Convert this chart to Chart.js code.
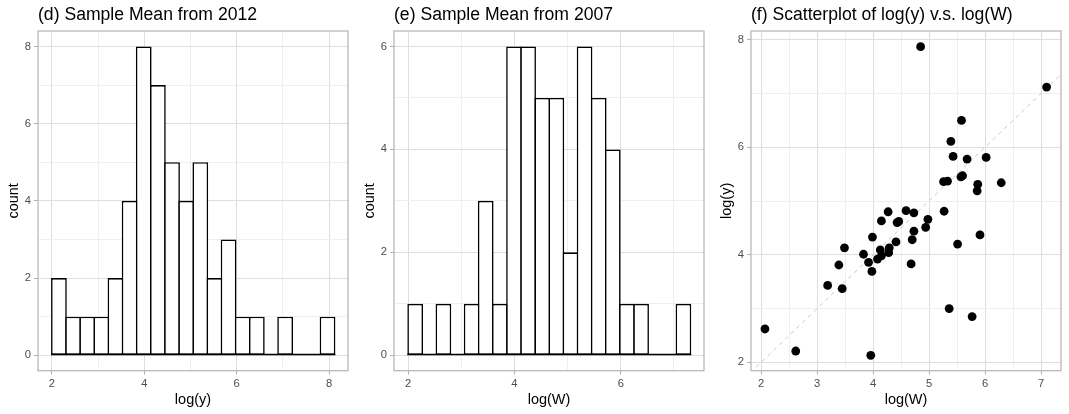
<!DOCTYPE html>
<html>
<head>
<meta charset="utf-8">
<script src="https://cdn.jsdelivr.net/npm/chart.js@4.4.1/dist/chart.umd.min.js"></script>
<style>
  html, body { margin: 0; padding: 0; background: #fff; }
  .panel { position: absolute; top: 0; width: 356px; height: 414px; }
</style>
</head>
<body>
<div class="panel" style="left:0px"><canvas id="histY"></canvas></div>
<div class="panel" style="left:356px"><canvas id="histW"></canvas></div>
<div class="panel" style="left:713px"><canvas id="scatter"></canvas></div>
<script>
// histogram of log(y): bin midpoints and counts
const histYBins = [2.153, 2.459, 2.765, 3.071, 3.377, 3.683, 3.989, 4.295, 4.601, 4.907,
                   5.213, 5.519, 5.825, 6.131, 6.437, 6.743, 7.049, 7.355, 7.661, 7.967];
const histYCounts = [2, 1, 1, 1, 2, 4, 8, 7, 5, 4, 5, 2, 3, 1, 1, 0, 1, 0, 0, 1];

// histogram of log(W)
const histWBins = [2.133, 2.398, 2.664, 2.929, 3.195, 3.460, 3.726, 3.992, 4.257, 4.523,
                   4.788, 5.054, 5.319, 5.585, 5.850, 6.116, 6.382, 6.647, 6.913, 7.178];
const histWCounts = [1, 0, 1, 0, 1, 3, 1, 6, 6, 5, 5, 2, 6, 5, 4, 1, 1, 0, 0, 1];

// scatter log(W) vs log(y)
const scatterW = [4.85, 7.10, 5.58, 5.39, 5.43, 5.68, 6.02, 5.57, 5.60, 5.26,
                  5.33, 5.87, 5.86, 6.29, 5.27, 4.27, 4.59, 4.73, 4.15, 4.46,
                  4.43, 4.98, 4.94, 4.73, 4.70, 3.99, 4.41, 5.91, 5.51, 3.49,
                  4.29, 4.13, 3.83, 4.28, 4.15, 4.08, 3.92, 3.39, 4.68, 3.98,
                  3.19, 3.45, 5.36, 5.77, 2.07, 2.62, 3.96];
const scatterY = [7.87, 7.12, 6.50, 6.11, 5.83, 5.78, 5.81, 5.45, 5.47, 5.36,
                  5.37, 5.31, 5.19, 5.34, 4.81, 4.80, 4.82, 4.78, 4.63, 4.62,
                  4.60, 4.66, 4.51, 4.44, 4.28, 4.33, 4.24, 4.37, 4.20, 4.13,
                  4.13, 4.09, 4.01, 4.04, 3.98, 3.92, 3.86, 3.81, 3.83, 3.69,
                  3.43, 3.37, 3.00, 2.85, 2.62, 2.21, 2.13];
const identityLine = [1.5, 7.5]; // y = x reference

// tick positions (major labelled, minor only gridlines)
const histYMajorX = [2, 4, 6, 8], histYMinorX = [3, 5, 7];
const histYMajorY = [0, 2, 4, 6, 8], histYMinorY = [1, 3, 5, 7];
const histWMajorX = [2, 4, 6], histWMinorX = [3, 5, 7];
const histWMajorY = [0, 2, 4, 6], histWMinorY = [1, 3, 5];
const scatMajorX = [2, 3, 4, 5, 6, 7], scatMinorX = [2.5, 3.5, 4.5, 5.5, 6.5];
const scatMajorY = [2, 4, 6, 8], scatMinorY = [3, 5, 7];

Chart.defaults.font.family = "'Liberation Sans', Arial, Helvetica, sans-serif";
Chart.defaults.animation = false;

const GRID_MAJOR = '#DEDEDE';
const GRID_MINOR = '#EFEFEF';
const FRAME = '#B3B3B3';
const LABEL = '#4D4D4D';
const OUTLINE = 1.6;

// draws the full panel border like theme_light
const panelBorder = {
  id: 'panelBorder',
  afterDraw(chart) {
    const { ctx, chartArea: a } = chart;
    ctx.save();
    ctx.strokeStyle = FRAME;
    ctx.lineWidth = 1.2;
    ctx.strokeRect(a.left, a.top, a.right - a.left, a.bottom - a.top);
    ctx.restore();
  }
};

// ggplot draws empty bins as a flat outline on the baseline
const histBaseline = {
  id: 'histBaseline',
  afterDatasetsDraw(chart) {
    const bars = chart.getDatasetMeta(0).data;
    if (!bars.length) return;
    const first = bars[0], last = bars[bars.length - 1];
    const y0 = chart.scales.y.getPixelForValue(0) - OUTLINE / 2;
    const { ctx } = chart;
    ctx.save();
    ctx.strokeStyle = '#000';
    ctx.lineWidth = OUTLINE;
    ctx.beginPath();
    ctx.moveTo(first.x - first.width / 2, y0);
    ctx.lineTo(last.x + last.width / 2, y0);
    ctx.stroke();
    ctx.restore();
  }
};

function axis(min, max, majors, minors, title, horizontal) {
  const all = majors.concat(minors).sort((a, b) => a - b);
  return {
    type: 'linear',
    min: min,
    max: max,
    offset: false,
    afterBuildTicks: (s) => { s.ticks = all.map(v => ({ value: v })); },
    afterFit: (s) => {
      if (horizontal) s.height = 43.3; else s.width = 38;
    },
    border: { display: false },
    grid: {
      offset: false,
      color: (c) => majors.includes(c.tick.value) ? GRID_MAJOR : GRID_MINOR,
      lineWidth: 1,
      drawTicks: true,
      tickLength: 4,
      tickColor: (c) => majors.includes(c.tick.value) ? FRAME : 'rgba(0,0,0,0)'
    },
    ticks: {
      autoSkip: false,
      maxRotation: 0,
      color: LABEL,
      font: { size: 11.2 },
      padding: horizontal ? 2 : 3,
      callback: (v) => majors.includes(v) ? String(v) : ''
    },
    title: {
      display: true,
      text: title,
      color: '#000',
      font: { size: 14.5 },
      padding: horizontal ? { top: 2, bottom: 5.7 } : { top: 5.4, bottom: 2 }
    }
  };
}

function plugins(title) {
  return {
    legend: { display: false },
    tooltip: { enabled: false },
    title: {
      display: true,
      text: title,
      align: 'start',
      fullSize: false,
      color: '#000',
      font: { size: 17.6, weight: 'normal' },
      padding: { top: 4.2, bottom: 5.7 }
    }
  };
}

function histogram(id, title, xTitle, bins, counts, xr, yr, mx, nx, my, ny) {
  const data = bins.map((b, i) => ({ x: b, y: counts[i] }));
  new Chart(document.getElementById(id), {
    type: 'bar',
    data: {
      datasets: [{
        data: data,
        backgroundColor: '#FFFFFF',
        borderColor: '#000000',
        borderWidth: OUTLINE,
        borderSkipped: false,
        grouped: false,
        categoryPercentage: 1,
        // widen each bar by one border so neighbouring outlines overlap
        barPercentage: (c) => {
          const x = c.chart.scales.x;
          const step = Math.abs(x.getPixelForValue(bins[1]) - x.getPixelForValue(bins[0]));
          return step > 0 ? 1 + OUTLINE / step : 1;
        }
      }]
    },
    options: {
      responsive: true,
      maintainAspectRatio: false,
      layout: { padding: { left: 0, right: 8, top: 0, bottom: 0 } },
      scales: {
        x: axis(xr[0], xr[1], mx, nx, xTitle, true),
        y: axis(yr[0], yr[1], my, ny, 'count', false)
      },
      plugins: plugins(title)
    },
    plugins: [panelBorder, histBaseline]
  });
}

histogram('histY', '(d) Sample Mean from 2012', 'log(y)', histYBins, histYCounts,
  [1.70, 8.41], [-0.4, 8.4], histYMajorX, histYMinorX, histYMajorY, histYMinorY);
histogram('histW', '(e) Sample Mean from 2007', 'log(W)', histWBins, histWCounts,
  [1.735, 7.565], [-0.3, 6.3], histWMajorX, histWMinorX, histWMajorY, histWMinorY);

new Chart(document.getElementById('scatter'), {
  type: 'scatter',
  data: {
    datasets: [{
      data: scatterW.map((w, i) => ({ x: w, y: scatterY[i] })),
      backgroundColor: '#000000',
      borderWidth: 0,
      pointRadius: 4.4
    }, {
      type: 'line',
      data: identityLine.map(v => ({ x: v, y: v })),
      borderColor: '#C8C8C8',
      borderWidth: 1,
      borderDash: [4, 4],
      pointRadius: 0,
      fill: false
    }]
  },
  options: {
    responsive: true,
    maintainAspectRatio: false,
    layout: { padding: { left: 0, right: 8, top: 0, bottom: 0 } },
    scales: {
      x: axis(1.821, 7.357, scatMajorX, scatMinorX, 'log(W)', true),
      y: axis(1.844, 8.162, scatMajorY, scatMinorY, 'log(y)', false)
    },
    plugins: plugins('(f) Scatterplot of log(y) v.s. log(W)')
  },
  plugins: [panelBorder]
});
</script>
</body>
</html>
